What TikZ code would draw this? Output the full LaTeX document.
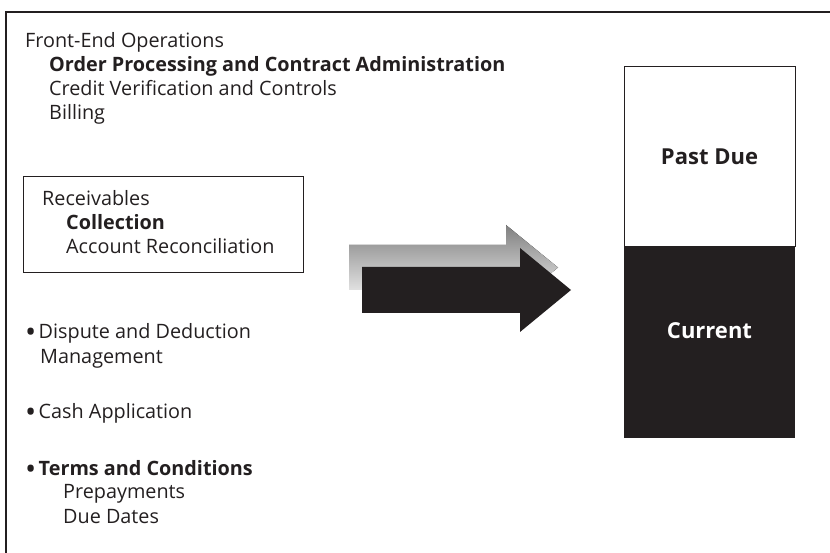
\documentclass[tikz,border=0pt]{standalone}
\usepackage{fontspec}
\setmainfont{Open Sans}
\usetikzlibrary{positioning}
\definecolor{ink}{HTML}{231F20}
\definecolor{shade}{HTML}{C4C5C7}
\newcommand{\blt}{\raisebox{-0.24em}{\scalebox{1.5}{\textbullet}}\hspace{0.12em}}
\tikzset{
  txt/.style={anchor=base west,inner sep=0pt,text=ink,font=\fontsize{19.8}{24}\selectfont},
  hd/.style={txt,font=\fontsize{19.8}{24}\selectfont\bfseries},
  barlabel/.style={anchor=base,inner sep=0pt,font=\fontsize{22}{24}\selectfont\bfseries},
}
\begin{document}
\begin{tikzpicture}[x=1pt,y=-1pt]
\useasboundingbox (0,0) rectangle (830,553);
\draw[ink,line width=1.2pt] (6,553) -- (6,12) -- (830,12);
\node[txt] (front) at (25,48) {Front-End Operations};
\node[hd] (order) at (49,72) {Order Processing and Contract Administration};
\node[txt] (credit) at (49,96) {Credit Verification and Controls};
\node[txt] (billing) at (49,120) {Billing};
\draw[ink,line width=1pt] (23,177) rectangle (303,273);
\node[txt] (recv) at (42,206) {Receivables};
\node[hd] (coll) at (66,230) {Collection};
\node[txt] (recon) at (66,254) {Account Reconciliation};
\node[txt] (dispute) at (25,338) {\blt Dispute and Deduction};
\node[txt] (mgmt) at (40,363) {Management};
\node[txt] (cash) at (25,418) {\blt Cash Application};
\node[txt] (terms) at (25,475) {\blt\textbf{Terms and Conditions}};
\node[txt] (prepay) at (63,498) {Prepayments};
\node[txt] (due) at (63,523) {Due Dates};
\fill[shade] (349,245) -- (506,245) -- (506,225) -- (558,267.5) -- (506,310) -- (506,290) -- (349,290) -- cycle;
\fill[ink] (362,267) -- (520,267) -- (520,248) -- (571,290) -- (520,332) -- (520,313) -- (362,313) -- cycle;
\draw[ink,line width=1pt] (624,67) rectangle (795,247);
\fill[ink] (624,247) rectangle (795,438);
\node[barlabel,text=ink] (past) at (709.5,165) {Past Due};
\node[barlabel,text=white] (current) at (709.5,338) {Current};
\end{tikzpicture}
\end{document}
